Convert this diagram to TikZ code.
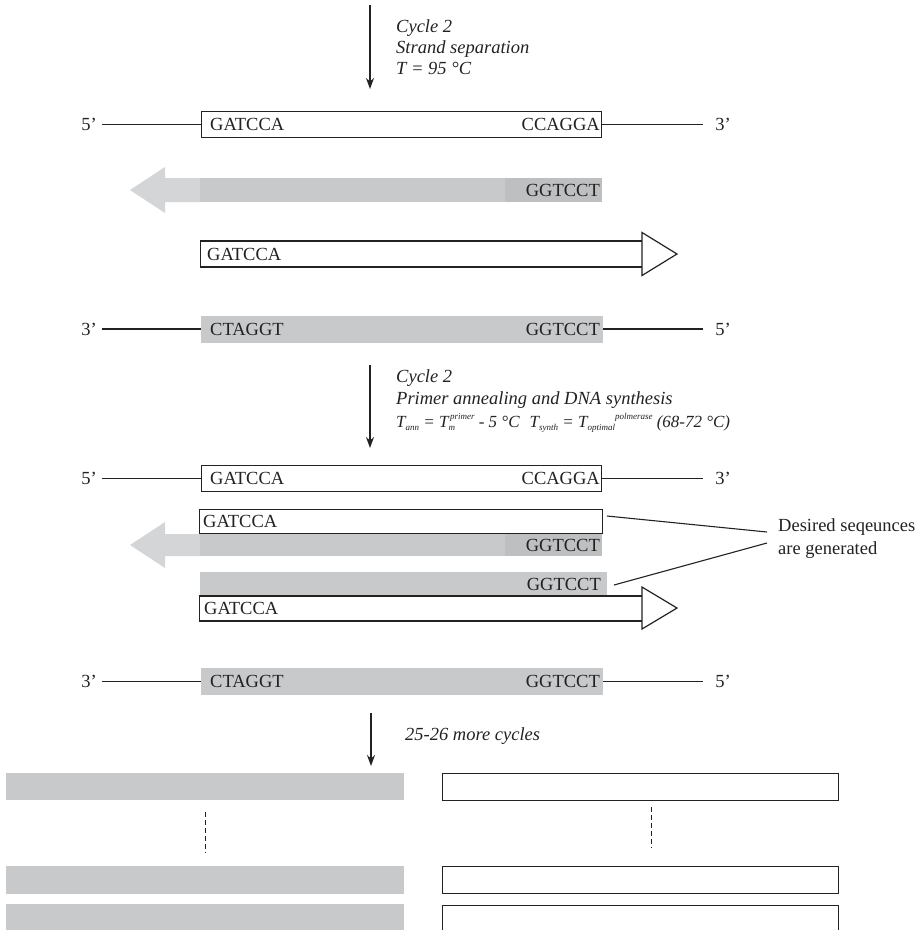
\documentclass[tikz,border=0pt]{standalone}
\usepackage{fontspec}
\setmainfont{Liberation Serif}
\usetikzlibrary{arrows.meta}
\definecolor{ink}{HTML}{222222}
\definecolor{strandgray}{HTML}{C8C9CB}
\definecolor{headgray}{HTML}{D4D5D7}
% index helpers for the temperature formula
\newcommand\lowidx[1]{\raisebox{-0.5ex}{\fontsize{9}{9}\selectfont #1}}
\newcommand\highidx[1]{\raisebox{0.95ex}{\fontsize{9}{9}\selectfont #1}}
\newcommand\bothidx[2]{\rlap{\lowidx{#1}}\hspace{1.5pt}\highidx{#2}}
\tikzset{
  txt/.style={font=\fontsize{18.5}{18}\selectfont, text=ink, inner sep=0pt},
  itxt/.style={font=\fontsize{18.5}{16}\selectfont\itshape, text=ink, inner sep=0pt, anchor=base west},
  wbox/.style={draw=ink, fill=white, line width=1.2pt, inner sep=0pt, minimum height=26pt},
  gbox/.style={fill=strandgray, draw=none, inner sep=0pt, minimum height=26pt},
  strand/.style={draw=ink, line width=1.1pt},
  stepdown/.style={draw=ink, line width=1.2pt, -{Stealth[length=11pt,width=8pt]}},
  whead/.style={draw=ink, fill=white, line width=1.2pt},
  ghead/.style={fill=headgray, draw=none},
  dots/.style={draw=ink, line width=1pt, dash pattern=on 5pt off 3pt},
  pointer/.style={draw=ink, line width=1.1pt}
}
\begin{document}
\begin{tikzpicture}[x=1pt,y=-1pt]
\useasboundingbox (0,0) rectangle (924,930);
\clip (0,0) rectangle (924,930);

% ---------- strand separation step ----------
\coordinate (a1s) at (370,5);
\coordinate (a1e) at (370,89);
\draw[stepdown] (a1s) -- (a1e);
\node[itxt] (a1t1) at (396,32) {Cycle 2};
\node[itxt] (a1t2) at (396,53) {Strand separation};
\node[itxt] (a1t3) at (396,74) {T = 95 °C};

% template (top) strand
\node[txt] (r1l) at (89,124.5) {5’};
\node[wbox, minimum width=400pt, anchor=west] (r1box) at (201,124.5) {};
\node[txt] (r1r) at (723,124.5) {3’};
\draw[strand] ([xshift=5pt]r1l.east) -- (r1box.west);
\draw[strand] (r1box.east) -- ([xshift=-12pt]r1r.west);
\node[txt, anchor=west] (r1a) at (210,124.5) {GATCCA};
\node[txt, anchor=east] (r1b) at (600,124.5) {CCAGGA};

% new reverse strand (grey arrow)
\path[ghead] (130,190) -- (165,167) -- (165,178) -- (200,178) -- (200,202) -- (165,202) -- (165,213) -- cycle;
\node[gbox, minimum width=305pt, minimum height=24pt, anchor=west] (r2body) at (200,190) {};
\node[gbox, fill=strandgray!95!black, minimum width=97pt, minimum height=24pt, anchor=west] (r2end) at (505,190) {};
\node[txt, anchor=east] (r2a) at (600,190) {GGTCCT};

% new forward strand (white arrow)
\node[wbox, minimum width=442pt, anchor=west] (r3body) at (200,254) {};
\draw[whead] (642,232.5) -- (677,254) -- (642,275.5) -- cycle;
\node[txt, anchor=west] (r3a) at (207,254) {GATCCA};

% complementary (bottom) strand
\node[txt] (r4l) at (89,329) {3’};
\node[gbox, minimum width=402pt, minimum height=27pt, anchor=west] (r4box) at (201,329) {};
\node[txt] (r4r) at (723,329) {5’};
\draw[strand] ([xshift=5pt]r4l.east) -- (r4box.west);
\draw[strand] (r4box.east) -- ([xshift=-12pt]r4r.west);
\node[txt, anchor=west] (r4a) at (210,329) {CTAGGT};
\node[txt, anchor=east] (r4b) at (600,329) {GGTCCT};

% ---------- annealing and synthesis step ----------
\coordinate (a2s) at (370,365);
\coordinate (a2e) at (370,448);
\draw[stepdown] (a2s) -- (a2e);
\node[itxt] (a2t1) at (396,382) {Cycle 2};
\node[itxt] (a2t2) at (396,404) {Primer annealing and DNA synthesis};
\node[itxt, font=\fontsize{17}{16}\selectfont\itshape] (a2t3) at (396,427)
  {T\lowidx{ann} = T\bothidx{m}{primer} - 5 °C\hspace{10pt}T\lowidx{synth} = T\lowidx{optimal}\highidx{polmerase} (68-72 °C)};

% template (top) strand
\node[txt] (r5l) at (89,478.5) {5’};
\node[wbox, minimum width=400pt, anchor=west] (r5box) at (201,478.5) {};
\node[txt] (r5r) at (723,478.5) {3’};
\draw[strand] ([xshift=5pt]r5l.east) -- (r5box.west);
\draw[strand] (r5box.east) -- ([xshift=-12pt]r5r.west);
\node[txt, anchor=west] (r5a) at (210,478.5) {GATCCA};
\node[txt, anchor=east] (r5b) at (600,478.5) {CCAGGA};

% copy of the top strand and its reverse product
\node[wbox, minimum width=403pt, minimum height=24pt, anchor=west] (r6box) at (199,521.5) {};
\node[txt, anchor=west] (r6a) at (203,521.5) {GATCCA};
\path[ghead] (130,545) -- (165,522) -- (165,534) -- (200,534) -- (200,556) -- (165,556) -- (165,568) -- cycle;
\node[gbox, minimum width=305pt, minimum height=22pt, anchor=west] (r6body) at (200,545) {};
\node[gbox, fill=strandgray!95!black, minimum width=97pt, minimum height=22pt, anchor=west] (r6end) at (505,545) {};
\node[txt, anchor=east] (r6b) at (600,545) {GGTCCT};

% copy of the bottom strand and its forward product
\node[gbox, minimum width=407pt, minimum height=24pt, anchor=west] (r7box) at (200,584) {};
\node[txt, anchor=east] (r7a) at (601,584) {GGTCCT};
\node[wbox, minimum width=443pt, minimum height=25pt, anchor=west] (r7body) at (199,608.5) {};
\draw[whead] (642,587) -- (677,608) -- (642,629) -- cycle;
\node[txt, anchor=west] (r7b) at (204,608.5) {GATCCA};

% callout
\node[txt, anchor=west] (note1) at (778,527) {Desired seqeunces};
\node[txt, anchor=west] (note2) at (778,550) {are generated};
\coordinate (p1s) at (607,516);
\coordinate (p1e) at (767,532);
\coordinate (p2s) at (614,585);
\coordinate (p2e) at (767,543);
\draw[pointer] (p1s) -- (p1e);
\draw[pointer] (p2s) -- (p2e);

% complementary (bottom) strand
\node[txt] (r8l) at (89,681.5) {3’};
\node[gbox, minimum width=402pt, minimum height=27pt, anchor=west] (r8box) at (201,681.5) {};
\node[txt] (r8r) at (723,681.5) {5’};
\draw[strand] ([xshift=5pt]r8l.east) -- (r8box.west);
\draw[strand] (r8box.east) -- ([xshift=-12pt]r8r.west);
\node[txt, anchor=west] (r8a) at (210,681.5) {CTAGGT};
\node[txt, anchor=east] (r8b) at (600,681.5) {GGTCCT};

% ---------- further cycles ----------
\coordinate (a3s) at (371,713);
\coordinate (a3e) at (371,766);
\draw[stepdown] (a3s) -- (a3e);
\node[itxt] (a3t1) at (405,740) {25-26 more cycles};

% accumulated products
\node[gbox, minimum width=398pt, minimum height=27pt, anchor=north west] (g1) at (6,773) {};
\node[gbox, minimum width=398pt, minimum height=28pt, anchor=north west] (g2) at (6,866) {};
\node[gbox, minimum width=398pt, minimum height=28pt, anchor=north west] (g3) at (6,904) {};
\node[wbox, minimum width=396pt, minimum height=27pt, anchor=north west] (w1) at (442,773) {};
\node[wbox, minimum width=396pt, minimum height=27pt, anchor=north west] (w2) at (442,866) {};
\node[wbox, minimum width=396pt, minimum height=27pt, anchor=north west] (w3) at (442,905) {};
\coordinate (d1s) at (205,812);
\coordinate (d1e) at (205,853);
\coordinate (d2s) at (651,807);
\coordinate (d2e) at (651,848);
\draw[dots] (d1s) -- (d1e);
\draw[dots] (d2s) -- (d2e);
\end{tikzpicture}
\end{document}
